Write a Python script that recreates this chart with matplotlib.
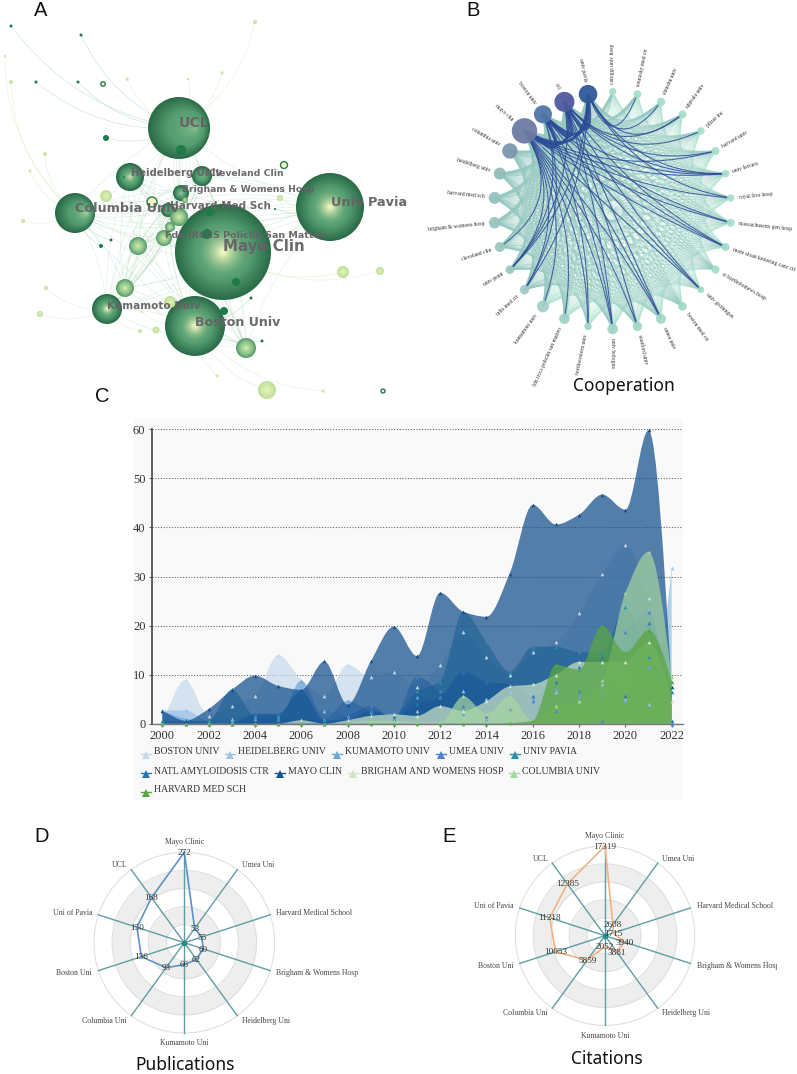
import numpy as np
import matplotlib
matplotlib.use("Agg")
import matplotlib.pyplot as plt
from matplotlib.patches import Circle, PathPatch, Rectangle
from matplotlib.path import Path

W, H = 797, 1074
SERIF = "Liberation Serif"

# Panel A: co-authorship network, positions and radii
big_names = ["Mayo Clin", "UCL", "Univ Pavia", "Boston Univ", "Columbia Univ", "Heidelberg Univ",
             "Kumamoto Univ", "Cleveland Clin", "Brigham & Womens Hosp", "Harvard Med Sch"]
big_x = [223, 179, 330, 195, 75, 130, 107, 202, 181, 168]
big_y = [252, 128, 207, 326, 213, 177, 309, 176, 193, 210]
big_r = [48, 31, 34, 30, 20, 14, 15, 10, 8, 7]
big_glow = [1.0, 0.3, 1.0, 1.0, 0.5, 0.8, 1.0, 0.25, 0.6, 0.2]
big_shift = [0, 16, 0, 0, 12, 0, 0, 0, 0, 0]

mid_x = [179, 164, 138, 170, 125, 246, 152, 185]
mid_y = [217, 238, 246, 227, 288, 348, 202, 200]
mid_r = [9, 8, 9, 5, 9, 10, 5, 3]

pale_x = [106, 343, 380, 267, 170, 156, 40, 46, 255, 222, 127, 188, 45, 30, 23, 11, 5, 280, 140, 142, 217, 323]
pale_y = [196, 272, 271, 390, 302, 330, 314, 288, 22, 73, 79, 79, 154, 171, 221, 82, 56, 198, 331, 312, 376, 391]
pale_r = [6, 6, 4, 9, 6, 3.5, 3, 2, 2, 1.5, 1.5, 1, 2, 1.5, 2, 2, 1, 3, 2, 1, 1.5, 1.5]
pale_to = [0, 0, 0, 3, 3, 3, 6, 6, 1, 1, 1, 1, 4, 4, 4, 4, 4, 2, 6, 3, 3, 3]

dark_x = [181, 210, 207, 236, 224, 106, 78, 36, 81, 11, 275, 251, 262, 101, 124, 111]
dark_y = [150, 212, 234, 282, 311, 138, 82, 82, 35, 26, 209, 298, 341, 246, 177, 240]
dark_r = [5, 4, 5, 4, 4, 3, 1.5, 1.5, 1.5, 1.5, 1, 1.5, 1.5, 2, 1, 1.5]
dark_to = [1, 0, 0, 0, 3, 1, 1, 1, 1, 1, 2, 3, 3, 4, 5, 4]

ring_x = [284, 103, 152, 383]
ring_y = [165, 84, 202, 391]
ring_r = [3.5, 2.2, 5, 2]

# Panel B: circular collaboration graph, clockwise from the top
inst_names = ["careggi univ hosp", "sourasky med ctr", "shinshu univ", "uppsala univ", "pfizer inc",
              "harvard univ", "univ ferrara", "royal free hosp", "massachusetts gen hosp",
              "mem sloan kettering canc ctr", "st bartholomews hosp", "univ groningen", "boston med ctr",
              "umea univ", "stanford univ", "univ bologna", "northwestern univ",
              "fdn irccs policlin san matteo", "kumamoto univ", "tufts med ctr", "univ penn",
              "cleveland clin", "brigham & womens hosp", "harvard med sch", "heidelberg univ",
              "columbia univ", "mayo clin", "boston univ", "ucl", "univ pavia"]
inst_r = [3.7, 4, 4.3, 4, 3.7, 4, 3.7, 3.7, 4, 4, 4, 3.3, 4.3, 5, 4.7, 5.3, 3.7, 5.3, 6, 4.7, 4.3,
          5, 5.7, 6, 6, 7.7, 12.7, 9, 10, 9.3]
inst_col = ["#a8e0cc", "#a8e0cc", "#a8e0cc", "#a8e0cc", "#a8e0cc", "#a8e0cc", "#a8e0cc", "#a8e0cc", "#a8e0cc",
            "#a5dccb", "#a5dccb", "#a5dccb", "#a5dac9", "#a3d8c8", "#a3d6c8", "#a3d4c8", "#a3d4c8",
            "#a3d2c8", "#a3d0c8", "#a0ccc4", "#9cc8c2", "#9cc8c0", "#98c4be", "#96c0bc", "#94bcb8",
            "#7d97ad", "#6d7ba4", "#4f75a8", "#4f5a9e", "#2f5a9a"]
# hubs are indexes 26 to 29, dark links go to these targets
dark_links = {26: [19, 20, 18, 17, 16, 15, 14, 13, 11, 9, 8, 7, 6, 5, 21],
              27: [20, 19, 16, 15, 13, 11, 9, 8, 6],
              28: [20, 15, 14, 13, 11, 9, 6, 5, 4, 3],
              29: [20, 19, 6, 3, 2, 1, 7]}

# Panel C: publications per year
years = list(range(2000, 2023))
boston = [0.6, 8.9, 1.6, 3.7, 5.6, 14, 9, 5.6, 12, 9.6, 10.6, 7.5, 12, 18.6, 13.6, 10, 14.6, 16.6, 22.6, 30.6, 36.5, 25.7, 0.6]
heidelberg = [2.7, 2.7, 0.6, 1, 1.6, 1.6, 0.7, 2.6, 1.6, 2.6, 1.6, 2.6, 5.5, 6.6, 5, 6.5, 4.6, 6.5, 4.6, 8, 5, 4, 31.7]
kumamoto = [2.6, 1, 0.4, 0.5, 1, 1, 8.8, 1, 4.7, 2.4, 1, 5.5, 3.6, 2, 1, 3, 5, 7, 5.6, 6, 4.6, 11.6, 0]
umea = [0.6, 0.3, 0.2, 0, 0, 1, 0.7, 0, 1.6, 3.6, 1, 9.6, 6.6, 3.6, 1.6, 7.6, 4.6, 2.6, 6.6, 0.6, 18.6, 22.7, 0]
pavia = [0.6, 0.5, 0.6, 7, 1.6, 1.6, 0.7, 0.7, 0.7, 1.6, 1.6, 6.6, 8.6, 22.8, 16.6, 10.6, 15.7, 15.7, 14.6, 14.6, 23.7, 13.6, 6.5]
natl = [0, 0, 0, 0, 2, 2, 6.7, 0.6, 0.7, 2.6, 1.6, 4, 5.5, 10.6, 8.6, 8, 5.6, 8.6, 11.6, 13.6, 5.6, 20.6, 0.6]
mayo = [2.6, 0.6, 3, 6.9, 9.8, 7.7, 6.9, 12.7, 3.9, 12.7, 19.8, 13.8, 26.7, 22.8, 21.8, 30.6, 44.6, 40.6, 42.6, 46.7, 43.6, 59.8, 7.5]
brigham = [0, 0, 0, 0, 0, 0, 0.7, 0, 0.7, 1.6, 1.9, 1.6, 3.6, 2.6, 4.6, 7.6, 8, 10, 12.6, 12.6, 12.6, 16.6, 4.6]
columbia = [0, 0, 0, 0, 0, 0, 0, 0, 0.2, 0.6, 0.6, 0.3, 0.3, 5.6, 2, 5.6, 0.6, 3.7, 4.6, 9, 26.7, 35, 9.6]
harvard = [0, 0, 0, 0, 0, 0, 0, 0, 0, 0, 0, 0, 0, 0, 0, 0.1, 0.6, 12, 11, 20, 14.5, 19, 8.6]

series_names = ["BOSTON UNIV", "HEIDELBERG UNIV", "KUMAMOTO UNIV", "UMEA UNIV", "UNIV PAVIA",
                "NATL AMYLOIDOSIS CTR", "MAYO CLIN", "BRIGHAM AND WOMENS HOSP", "COLUMBIA UNIV", "HARVARD MED SCH"]
series_vals = [boston, heidelberg, kumamoto, umea, pavia, natl, mayo, brigham, columbia, harvard]
series_cols = ["#c6d9ec", "#9cc3e6", "#6aa5dc", "#4a80cc", "#2b8fa8", "#2a75b5", "#144f8c", "#cfe5c8", "#a5d6a0", "#5aa642"]
series_alpha = [0.7, 0.75, 0.7, 0.6, 0.6, 0.75, 0.72, 0.7, 0.7, 0.75]

# Panels D and E: radar charts
radar_labels = ["Mayo Clinic", "Umea Uni", "Harvard Medical School", "Brigham & Womens Hosp", "Heidelberg Uni",
                "Kumamoto Uni", "Columbia Uni", "Boston Uni", "Uni of Pavia", "UCL"]
publications = [272, 53, 55, 60, 62, 66, 93, 136, 150, 168]
citations = [17319, 2608, 1715, 3940, 3881, 2052, 5859, 10053, 11218, 12385]


def lerp(c0, c1, t):
    a = np.array(matplotlib.colors.to_rgb(c0))
    b = np.array(matplotlib.colors.to_rgb(c1))
    return tuple(a + (b - a) * t)


def curve(ax, x0, y0, x1, y1, cx, cy, color, lw, alpha, z=1):
    path = Path([(x0, y0), (cx, cy), (x1, y1)], [Path.MOVETO, Path.CURVE3, Path.CURVE3])
    ax.add_patch(PathPatch(path, fc="none", ec=color, lw=lw, alpha=alpha, zorder=z))


def bent(ax, x0, y0, x1, y1, bend, color, lw, alpha, z=1):
    mx, my = (x0 + x1) / 2, (y0 + y1) / 2
    curve(ax, x0, y0, x1, y1, mx - (y1 - y0) * bend, my + (x1 - x0) * bend, color, lw, alpha, z)


# gradient ball built from concentric circles, like the rings in the original
def ball(ax, x, y, r, outer, mid, inner, glow, shift=0, z=3):
    n = max(5, int(r))
    for k in range(n):
        t = k / (n - 1)
        if t < 0.45:
            col = lerp(outer, mid, t / 0.45)
        else:
            col = lerp(mid, inner, glow * ((t - 0.45) / 0.55) ** 1.6)
        ax.add_patch(Circle((x + shift * t, y), r * (1 - t * 0.95), fc=col, ec="none", zorder=z))


# monotone cubic path through the yearly values, so the area never dips under zero
def smooth_path(x, y):
    x = np.array(x, float)
    y = np.array(y, float)
    d = np.diff(y)
    m = np.zeros(len(y))
    for i in range(1, len(y) - 1):
        if d[i - 1] * d[i] > 0:
            m[i] = 2 * d[i - 1] * d[i] / (d[i - 1] + d[i])
    m[0] = d[0]
    m[-1] = 1.5 * d[-1]
    verts = [(x[0], 0), (x[0], y[0])]
    codes = [Path.MOVETO, Path.LINETO]
    for i in range(len(y) - 1):
        verts += [(x[i] + 1 / 3, y[i] + m[i] / 3), (x[i + 1] - 1 / 3, y[i + 1] - m[i + 1] / 3), (x[i + 1], y[i + 1])]
        codes += [Path.CURVE4] * 3
    verts += [(x[-1], 0), (x[0], 0)]
    codes += [Path.LINETO, Path.CLOSEPOLY]
    return Path(verts, codes)


def draw_radar(fig, cx, cy, R, vals, line_col):
    ax = fig.add_axes([(cx - R) / W, 1 - (cy + R) / H, 2 * R / W, 2 * R / H], projection="polar", zorder=3)
    ax.set_theta_zero_location("N")
    ax.set_theta_direction(-1)
    vmax = max(vals)
    ax.set_rlim(0, vmax)
    ax.set_xticks([])
    ax.set_yticks([])
    ax.patch.set_alpha(0)
    ax.spines["polar"].set_visible(False)
    th = np.linspace(0, 2 * np.pi, 240)
    for lo, hi in [(1, 2), (3, 4)]:
        ax.fill_between(th, vmax * lo / 5, vmax * hi / 5, color="#eeeeee", lw=0, zorder=1)
    for k in range(1, 6):
        ax.plot(th, [vmax * k / 5] * len(th), color="#dddddd", lw=0.7, zorder=2, clip_on=False)
    angles = np.arange(10) * 2 * np.pi / 10
    for a in angles:
        ax.plot([a, a], [0, vmax], color="#5f9ea3", lw=1.0, zorder=3, clip_on=False)
    ax.plot(np.append(angles, angles[0]), vals + vals[:1], color=line_col, lw=1.2, zorder=4, clip_on=False)
    ax.plot([0], [0], "o", color="#2a8a8f", ms=3, zorder=5)
    for a, v in zip(angles, vals):
        ax.annotate(str(v), (a, v), xytext=(0, -0.5), textcoords="offset points", ha="center", va="center",
                    family=SERIF, fontsize=6.6, color="#333333", zorder=6, annotation_clip=False)
    # label offsets in points from the end of each spoke
    off = [(0, 7.5), (3, 3), (4.5, 1.5), (4.5, -1.5), (3, -3.5), (0, -7.5), (-3, -3.5), (-4.5, -1.5), (-4.5, 1.5), (-3, 3)]
    has = ["center", "left", "left", "left", "left", "center", "right", "right", "right", "right"]
    for a, lab, o, ha in zip(angles, radar_labels, off, has):
        ax.annotate(lab, (a, vmax), xytext=o, textcoords="offset points", ha=ha, va="center",
                    family=SERIF, fontsize=5.6, color="#444444", zorder=6, annotation_clip=False)


fig = plt.figure(figsize=(W / 100, H / 100), dpi=100, facecolor="white")
ax = fig.add_axes([0, 0, 1, 1], zorder=1)
ax.set_xlim(0, W)
ax.set_ylim(H, 0)
ax.axis("off")

# ---- panel A
core_x = big_x + mid_x
core_y = big_y + mid_y
for i in range(len(core_x)):
    for j in range(i + 1, len(core_x)):
        bent(ax, core_x[i], core_y[i], core_x[j], core_y[j], 0.12 * (1 if (i + j) % 2 else -1), "#8fc9a0", 0.3, 0.4)
for x, y, t in zip(pale_x, pale_y, pale_to):
    bent(ax, x, y, big_x[t], big_y[t], 0.22 * (1 if x < big_x[t] else -1), "#dcefcb", 0.45, 0.7)
for x, y, t in zip(dark_x, dark_y, dark_to):
    bent(ax, x, y, big_x[t], big_y[t], 0.2 * (1 if x < big_x[t] else -1), "#b5d8c4", 0.45, 0.7)
for x, y, r, g, s in zip(big_x, big_y, big_r, big_glow, big_shift):
    ball(ax, x, y, r, "#2a6b48", "#559f72", "#eef4bc", g, s)
for x, y, r in zip(mid_x, mid_y, mid_r):
    ball(ax, x, y, r, "#5b9f6e", "#9ccc90", "#e6f2b8", 1, z=4)
for x, y, r in zip(pale_x, pale_y, pale_r):
    ball(ax, x, y, r, "#bfe09a", "#d4eaa8", "#eef6c8", 1, z=4)
for x, y, r in zip(dark_x, dark_y, dark_r):
    ax.add_patch(Circle((x, y), r, fc="#1f7a4a", ec="none", zorder=4))
for x, y, r in zip(ring_x, ring_y, ring_r):
    ax.add_patch(Circle((x, y), r, fc="#f0f6c8", ec="#2a7a50", lw=1, zorder=4))

label_x = [223, 179, 331, 195, 75, 131, 107, 209, 182, 170, 165]
label_y = [247, 123, 202, 322, 209, 173, 306, 173, 189, 206, 235]
label_text = big_names + ["Fdn IRCCS Policlin San Matteo"]
label_size = [10.8, 10.2, 9.3, 9.1, 9.2, 7.2, 7.5, 6.7, 6.7, 7.5, 6.8]
for x, y, s, fs in zip(label_x, label_y, label_text, label_size):
    ax.text(x, y, s, family="DejaVu Sans", weight="bold", fontsize=fs, color="#666066", ha="left", va="center",
            alpha=0.95, zorder=8)

# ---- panel B
cx_b, cy_b, rad_b = 612.7, 210.3, 118.7
n_inst = len(inst_names)
ang = np.arange(n_inst) * 2 * np.pi / n_inst
bx = cx_b + rad_b * np.sin(ang)
by = cy_b - rad_b * np.cos(ang)
for i in range(n_inst):
    for j in range(i + 1, n_inst):
        mx, my = (bx[i] + bx[j]) / 2, (by[i] + by[j]) / 2
        k = 0.4
        col = "#93c8bf" if j > 18 else "#b4e4d4"
        lw = 0.28 + (inst_r[i] * inst_r[j]) / 42
        curve(ax, bx[i], by[i], bx[j], by[j], mx + (cx_b - mx) * k, my + (cy_b - my) * k, col, min(lw, 1.5), 0.5)
for hub, targets in dark_links.items():
    for t in targets:
        mx, my = (bx[hub] + bx[t]) / 2, (by[hub] + by[t]) / 2
        curve(ax, bx[hub], by[hub], bx[t], by[t], mx + (cx_b - mx) * 0.55, my + (cy_b - my) * 0.55,
              "#2c4a96", 0.75, 0.85, z=2)
for a in range(26, 30):
    for b in range(a + 1, 30):
        mx, my = (bx[a] + bx[b]) / 2, (by[a] + by[b]) / 2
        curve(ax, bx[a], by[a], bx[b], by[b], mx + (cx_b - mx) * 0.55, my + (cy_b - my) * 0.55,
              "#2c4a96", 2.2, 0.85, z=2)
for i in range(n_inst):
    ax.add_patch(Circle((bx[i], by[i]), inst_r[i], fc=inst_col[i], ec="none", alpha=0.95, zorder=3))
    deg = 90 - np.degrees(ang[i])
    gap = inst_r[i] + 4
    tx = cx_b + (rad_b + gap) * np.sin(ang[i])
    ty = cy_b - (rad_b + gap) * np.cos(ang[i])
    if np.sin(ang[i]) >= -1e-6:
        ax.text(tx, ty, inst_names[i], family=SERIF, fontsize=4.1, color="#333333", rotation=deg,
                rotation_mode="anchor", ha="left", va="center", zorder=5)
    else:
        ax.text(tx, ty, inst_names[i], family=SERIF, fontsize=4.1, color="#333333", rotation=deg + 180,
                rotation_mode="anchor", ha="right", va="center", zorder=5)

# ---- panel C background and legend
ax.add_patch(Rectangle((134, 419), 549, 381, fc="#f9f9f9", ec="none", zorder=0))
leg_mx = [145.7, 230, 337, 441, 515, 145.7, 280, 352.7, 514, 145.7]
leg_tx = [154, 238, 345, 449, 523, 154, 288, 361, 522, 154]
leg_y = [752, 752, 752, 752, 752, 771, 771, 771, 771, 790]
for i, name in enumerate(series_names):
    ax.plot([leg_mx[i] - 5, leg_mx[i] + 5], [leg_y[i] + 2, leg_y[i] + 2], color=series_cols[i], lw=1, zorder=2)
    ax.plot([leg_mx[i]], [leg_y[i] + 3], "^", color=series_cols[i], ms=6, mew=0, zorder=3)
    ax.text(leg_tx[i], leg_y[i], name, family=SERIF, fontsize=7, color="#333333", ha="left", va="center")

axc = fig.add_axes([151.7 / W, 1 - 723.7 / H, 531 / W, 294.4 / H], zorder=2)
axc.patch.set_alpha(0)
axc.set_xlim(1999.54, 2022.475)
axc.set_ylim(0, 60)
for vals, col, al in zip(series_vals, series_cols, series_alpha):
    axc.add_patch(PathPatch(smooth_path(years, vals), fc=col, ec="none", alpha=al, zorder=2))
for vals, col in zip(series_vals, series_cols):
    axc.plot(years, vals, "^", color=col, ms=2.6, mew=0, zorder=3, clip_on=False)
axc.set_yticks(range(0, 61, 10))
axc.set_xticks(years[::2])
axc.grid(axis="y", linestyle=(0, (1, 1.5)), color="#666666", lw=0.8, zorder=1)
axc.set_axisbelow(True)
for s in ["top", "right"]:
    axc.spines[s].set_visible(False)
axc.spines["left"].set_color("#444444")
axc.spines["left"].set_linewidth(1.2)
axc.spines["bottom"].set_color("#777777")
axc.spines["bottom"].set_linewidth(1.0)
axc.tick_params(axis="both", length=2, color="#666666", labelcolor="#333333", pad=2.5, labelsize=9)
for t in axc.get_xticklabels() + axc.get_yticklabels():
    t.set_family(SERIF)

# ---- panels D and E
draw_radar(fig, 184.3, 942.7, 90.3, publications, "#5b93c8")
draw_radar(fig, 605, 935.7, 89.7, citations, "#f4b183")

# the original crop cuts the last label of panel E
top = fig.add_axes([0, 0, 1, 1], zorder=5)
top.set_xlim(0, W)
top.set_ylim(H, 0)
top.axis("off")
top.add_patch(Rectangle((777, 940), 20, 40, fc="white", ec="none"))

# ---- panel letters and captions
for s, x, y in [("A", 41, 10), ("B", 473, 10), ("C", 102, 397), ("D", 42, 837), ("E", 449, 837)]:
    top.text(x, y, s, family="Liberation Sans", fontsize=14.5, color="#111111", ha="center", va="center")
for s, x, y in [("Cooperation", 624, 386), ("Publications", 185, 1065), ("Citations", 607, 1059)]:
    top.text(x, y, s, family="Noto Sans", fontsize=12.5, color="#111111", ha="center", va="center")

fig.savefig("out.png", dpi=100)
